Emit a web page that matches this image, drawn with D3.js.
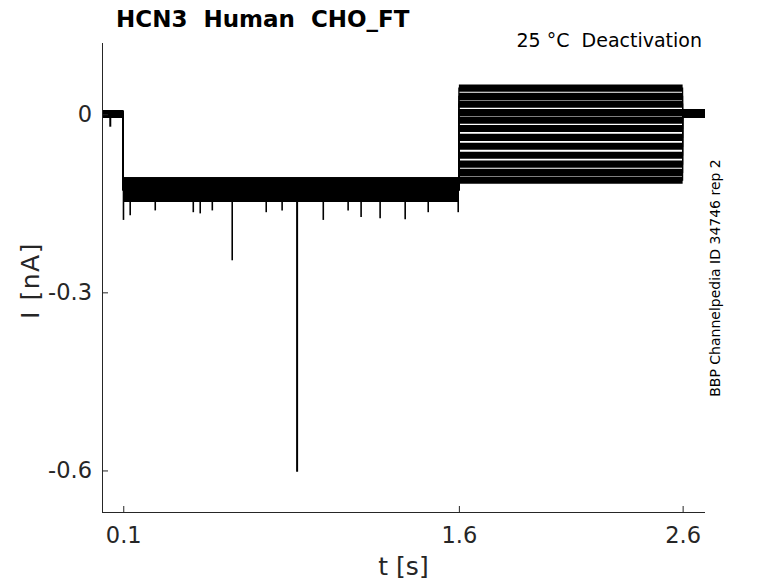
<!DOCTYPE html>
<html>
<head>
<meta charset="utf-8">
<script src="https://cdn.jsdelivr.net/npm/d3@7"></script>
<style>
  body { margin: 0; background: #fff; }
  text { font-family: "DejaVu Sans", sans-serif; white-space: pre; }
</style>
</head>
<body>
<div id="chart"></div>
<script>
// time axis [s] and current axis [nA]
const xDomain = [0.005, 2.7];
const yDomain = [-0.67, 0.12];
const xTicks = [0.1, 1.6, 2.6];
const yTicks = [0, -0.3, -0.6];
const yTickLabels = ["0", "-0.3", "-0.6"];

// protocol phases: start, end, half noise band
const phaseStart = [0.005, 0.1, 1.6, 2.6];
const phaseEnd = [0.1, 1.6, 2.6, 2.7];
const phaseNoise = [0.006, 0.02, 0.006, 0.007];
const preLevel = 0;
const holdLevel = -0.127;
const postLevel = 0.001;

// current level of each sweep during the test step
const testLevels = [0.044, 0.030, 0.017, 0.003, -0.010, -0.024,
  -0.039, -0.054, -0.069, -0.084, -0.098, -0.111];

// downward spikes during holding: time [s], peak current [nA]
const spikeTimes = [0.101, 0.131, 0.243, 0.413, 0.444, 0.498, 0.587, 0.739,
  0.810, 0.877, 0.994, 1.105, 1.163, 1.248, 1.360, 1.463, 1.597];
const spikePeaks = [-0.178, -0.170, -0.162, -0.165, -0.167, -0.162, -0.246, -0.165,
  -0.162, -0.602, -0.178, -0.162, -0.173, -0.175, -0.177, -0.165, -0.165];

// small dip before the step
const dipTime = 0.042;
const dipPeak = -0.021;

const W = 778, H = 583;
const mLeft = 102, mRight = 705, mTop = 43, mBottom = 512;

const svg = d3.select("#chart").append("svg")
  .attr("width", W).attr("height", H);

const x = d3.scaleLinear().domain(xDomain).range([mLeft, mRight]);
const y = d3.scaleLinear().domain(yDomain).range([mBottom, mTop]);

const band = d3.area()
  .x((d) => x(d[0]))
  .y0((d) => y(d[1] - d[2]))
  .y1((d) => y(d[1] + d[2]));

const trace = d3.line().x((d) => x(d[0])).y((d) => y(d[1]));

const g = svg.append("g");

testLevels.forEach((lvl) => {
  const levels = [preLevel, holdLevel, lvl, postLevel];
  const pts = [];
  levels.forEach((v, i) => {
    pts.push([phaseStart[i], v], [phaseEnd[i], v]);
  });
  // connecting step line
  g.append("path")
    .attr("d", trace(pts))
    .attr("fill", "none")
    .attr("stroke", "#000")
    .attr("stroke-width", 1.2);
  // noise band for every phase
  levels.forEach((v, i) => {
    g.append("path")
      .attr("d", band([[phaseStart[i], v, phaseNoise[i]], [phaseEnd[i], v, phaseNoise[i]]]))
      .attr("fill", "#000");
  });
});

// spikes
g.selectAll(".spike")
  .data(spikeTimes.map((t, i) => [t, spikePeaks[i]]))
  .join("line")
  .attr("class", "spike")
  .attr("x1", (d) => x(d[0]))
  .attr("x2", (d) => x(d[0]))
  .attr("y1", y(holdLevel))
  .attr("y2", (d) => y(d[1]))
  .attr("stroke", "#000")
  .attr("stroke-width", (d) => (d[1] < -0.3 ? 2 : 1.6));

g.append("line")
  .attr("x1", x(dipTime)).attr("x2", x(dipTime))
  .attr("y1", y(preLevel)).attr("y2", y(dipPeak))
  .attr("stroke", "#000").attr("stroke-width", 2);

// axes
const axisColor = "#262626";
const xAxis = svg.append("g")
  .attr("transform", `translate(0, ${mBottom})`)
  .call(d3.axisBottom(x).tickValues(xTicks).tickSize(-6).tickPadding(15)
    .tickFormat(d3.format(".1f")));
const yAxis = svg.append("g")
  .attr("transform", `translate(${mLeft}, 0)`)
  .call(d3.axisLeft(y).tickValues(yTicks).tickSize(-6).tickPadding(10)
    .tickFormat((d, i) => yTickLabels[i]));

[xAxis, yAxis].forEach((a) => {
  a.select(".domain").attr("stroke", axisColor).attr("stroke-width", 1);
  a.selectAll(".tick line").attr("stroke", axisColor);
  a.selectAll(".tick text")
    .attr("fill", axisColor)
    .style("font-size", "22.5px")
    .style("font-family", "DejaVu Sans");
});
// plain axis lines without outer ticks
xAxis.select(".domain").attr("d", `M${mLeft},0.5H${mRight}`);
yAxis.select(".domain").attr("d", `M0.5,${mTop}V${mBottom}`);

svg.append("text")
  .attr("x", (mLeft + mRight) / 2).attr("y", 575)
  .attr("text-anchor", "middle")
  .attr("fill", axisColor)
  .style("font-size", "25px")
  .text("t [s]");

svg.append("text")
  .attr("transform", `translate(39, ${(mTop + mBottom) / 2 + 3}) rotate(-90)`)
  .attr("text-anchor", "middle")
  .attr("fill", axisColor)
  .style("font-size", "25px")
  .style("letter-spacing", "1.5px")
  .text("I [nA]");

svg.append("text")
  .attr("x", 116).attr("y", 27)
  .attr("fill", "#000")
  .style("font-size", "23px")
  .style("font-weight", "bold")
  .text("HCN3  Human  CHO_FT");

svg.append("text")
  .attr("x", 702).attr("y", 47)
  .attr("text-anchor", "end")
  .attr("fill", "#000")
  .style("font-size", "19px")
  .text("25 °C  Deactivation");

svg.append("text")
  .attr("transform", `translate(720, 278) rotate(-90)`)
  .attr("text-anchor", "middle")
  .attr("fill", "#000")
  .style("font-size", "14px")
  .text("BBP Channelpedia ID 34746 rep 2");
</script>
</body>
</html>
